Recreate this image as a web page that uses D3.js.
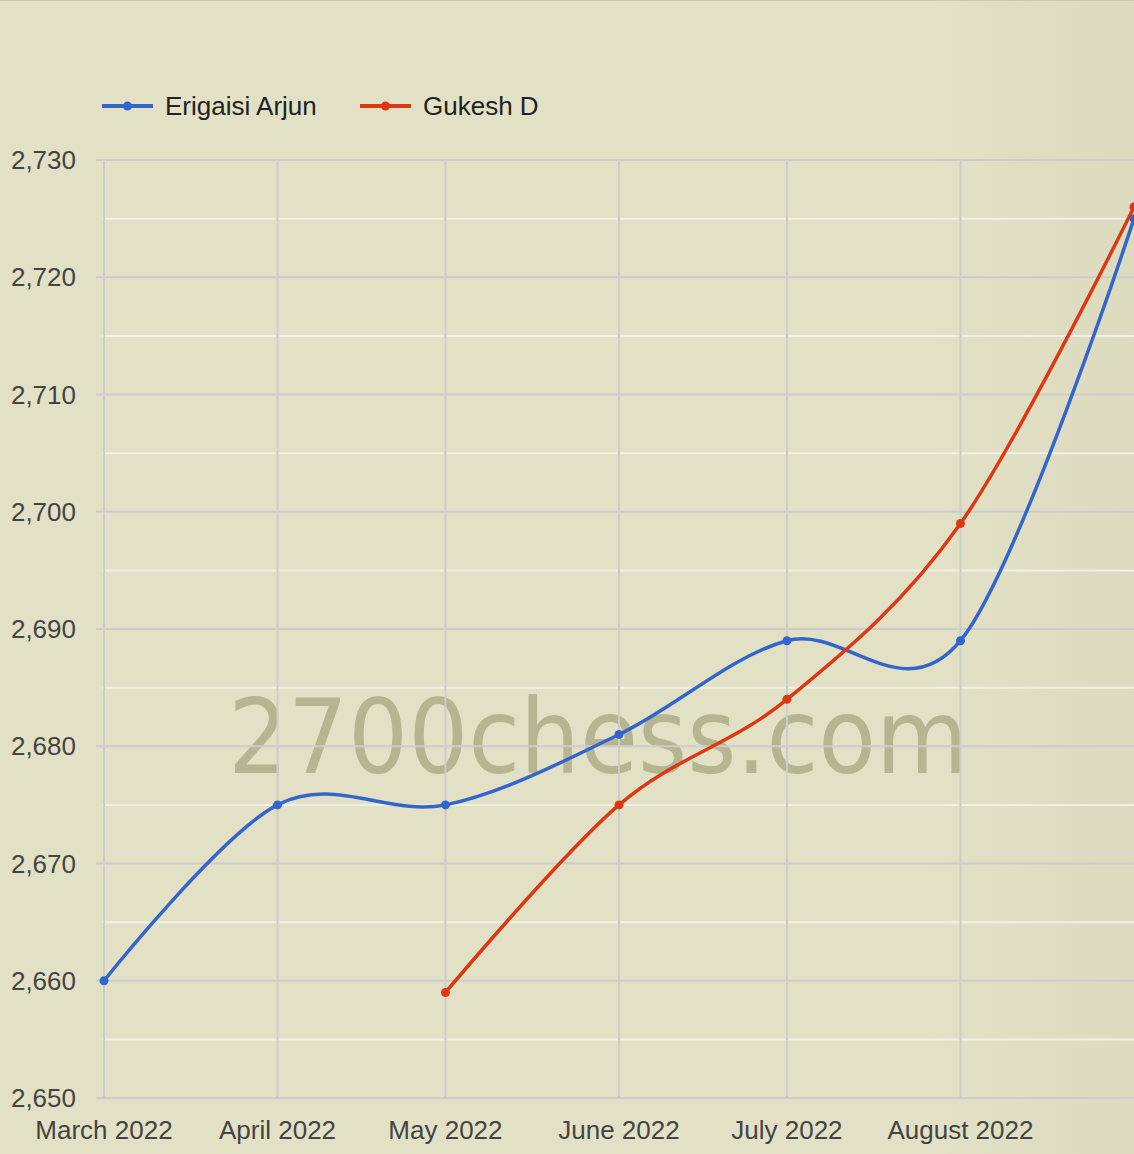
<!DOCTYPE html>
<html><head><meta charset="utf-8">
<script src="https://cdn.jsdelivr.net/npm/d3@7"></script>
<style>
html,body{margin:0;padding:0;overflow:hidden;background:#e3e1c5;}
svg{display:block;}
text{font-family:Arimo,"Liberation Sans",Arial,sans-serif;}
</style></head>
<body>
<script>
const months = ["2022-03-01","2022-04-01","2022-05-01","2022-06-01","2022-07-01","2022-08-01","2022-09-01"];
const monthLabels = ["March 2022","April 2022","May 2022","June 2022","July 2022","August 2022"];
const erigaisi = [2660,2675,2675,2681,2689,2689,2725];
const gukesh = [null,null,2659,2675,2684,2699,2726];
const seriesNames = ["Erigaisi Arjun","Gukesh D"];
const seriesColors = ["#3366cc","#dc3912"];
const yTicks = [2650,2660,2670,2680,2690,2700,2710,2720,2730];
const yMinor = [2655,2665,2675,2685,2695,2705,2715,2725];

const W=1134,H=1154;
const parse=d3.utcParse("%Y-%m-%d");
const dates=months.map(parse);
const svg=d3.select("body").append("svg").attr("width",W).attr("height",H);
const defs=svg.append("defs");
const g1=defs.append("linearGradient").attr("id","bg").attr("x1","0").attr("x2","1").attr("y1","0").attr("y2","0");
g1.append("stop").attr("offset","0.82").attr("stop-color","#e3e1c5");
g1.append("stop").attr("offset","1").attr("stop-color","#dcdbbf");
svg.append("rect").attr("width",W).attr("height",H).attr("fill","url(#bg)");
svg.append("line").attr("x1",0).attr("x2",W).attr("y1",0.5).attr("y2",0.5).attr("stroke","#c9c8b4").attr("stroke-width",1);

const x=d3.scaleUtc().domain([dates[0],dates[6]]).range([104,1134]);
const y=d3.scaleLinear().domain([2650,2730]).range([1098,160]);

// watermark
svg.append("text").attr("x",228).attr("y",773).attr("textLength",740).attr("lengthAdjust","spacingAndGlyphs")
  .style("font-family","'DejaVu Sans Condensed','DejaVu Sans',sans-serif").style("font-size","104px")
  .attr("fill","#b6b592").text("2700chess.com");

// minor grid
svg.append("g").selectAll("line").data(yMinor).join("line")
  .attr("x1",102).attr("x2",W).attr("y1",d=>y(d)).attr("y2",d=>y(d))
  .attr("stroke","#f1f0e6").attr("stroke-width",2);
// vertical grid
svg.append("g").selectAll("line").data(dates.slice(0,6)).join("line")
  .attr("x1",d=>x(d)).attr("x2",d=>x(d)).attr("y1",160).attr("y2",1098)
  .attr("stroke","#cccccc").attr("stroke-width",2);
// major grid
svg.append("g").selectAll("line").data(yTicks).join("line")
  .attr("x1",96).attr("x2",W).attr("y1",d=>y(d)).attr("y2",d=>y(d))
  .attr("stroke","#cccccc").attr("stroke-width",2);

// y labels
const fmt=d3.format(",");
svg.append("g").selectAll("text").data(yTicks).join("text")
  .attr("x",76).attr("y",d=>y(d)+9).attr("text-anchor","end")
  .style("font-size","26px").attr("fill","#444").text(d=>fmt(d));
// x labels
svg.append("g").selectAll("text").data(monthLabels).join("text")
  .attr("x",(d,i)=>x(dates[i])).attr("y",1139).attr("text-anchor","middle")
  .style("font-size","26px").attr("fill","#444").text(d=>d);

// series
const all=[erigaisi,gukesh];
all.forEach((vals,si)=>{
  const pts=vals.map((v,i)=>({d:dates[i],v})).filter(p=>p.v!=null);
  const line=d3.line().x(p=>x(p.d)).y(p=>y(p.v)).curve(d3.curveCardinal.tension(0));
  svg.append("path").attr("d",line(pts)).attr("fill","none").attr("stroke",seriesColors[si]).attr("stroke-width",3.5);
  svg.append("g").selectAll("circle").data(pts).join("circle")
    .attr("cx",p=>x(p.d)).attr("cy",p=>y(p.v)).attr("r",4.5).attr("fill",seriesColors[si]);
});

// legend
const leg=[{x:102,tx:165},{x:360,tx:423}];
seriesNames.forEach((n,i)=>{
  const gg=svg.append("g");
  gg.append("line").attr("x1",leg[i].x).attr("x2",leg[i].x+51).attr("y1",106).attr("y2",106)
    .attr("stroke",seriesColors[i]).attr("stroke-width",4);
  gg.append("circle").attr("cx",leg[i].x+25.5).attr("cy",106).attr("r",4.5).attr("fill",seriesColors[i]);
  gg.append("text").attr("x",leg[i].tx).attr("y",115).style("font-size","26px").attr("fill","#222").text(n);
});
</script>
</body></html>
